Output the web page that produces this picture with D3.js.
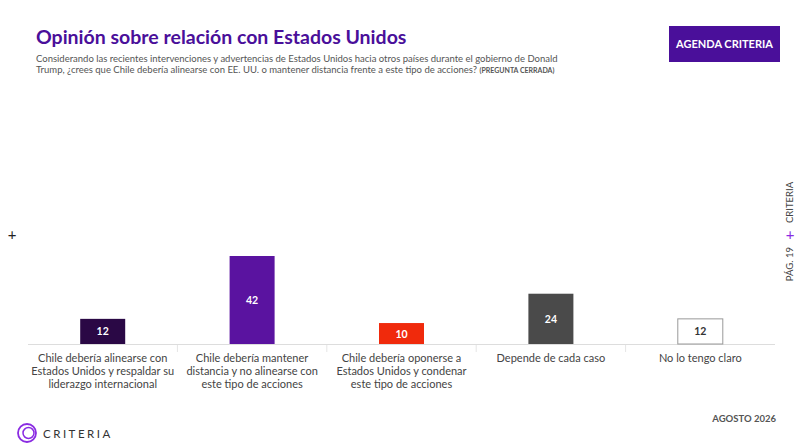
<!DOCTYPE html><html><head><meta charset="utf-8">
<script src="https://cdn.jsdelivr.net/npm/d3@7"></script>
<style>body{margin:0;background:#fff}svg{font-family:Lato,'Open Sans',sans-serif}</style></head><body>
<svg id="c" width="800" height="448"></svg>
<script>
const categories=[["Chile debería alinearse con","Estados Unidos y respaldar su","liderazgo internacional"],["Chile debería mantener","distancia y no alinearse con","este tipo de acciones"],["Chile debería oponerse a","Estados Unidos y condenar","este tipo de acciones"],["Depende de cada caso"],["No lo tengo claro"]];
const values=[12,42,10,24,12];
const colors=["#2a0845","#5a13a0","#f02a0c","#4a4a4a","#ffffff"];
const labelColors=["#fff","#fff","#fff","#fff","#333"];
const svg=d3.select("#c");
const x=d3.scaleBand().domain(d3.range(5)).range([28,775]).paddingInner(0).paddingOuter(0);
const y=d3.scaleLinear().domain([0,42]).range([344,256]);
const bw=46;
svg.append("text").attr("x",36).attr("y",44).attr("fill","#4a0f9a").attr("font-size",19.5).attr("font-weight",700).text("Opinión sobre relación con Estados Unidos");
const sub=svg.append("text").attr("x",36).attr("y",62).attr("fill","#555").attr("font-size",9.5);
sub.append("tspan").text("Considerando las recientes intervenciones y advertencias de Estados Unidos hacia otros países durante el gobierno de Donald");
sub.append("tspan").attr("x",36).attr("dy",11).text("Trump, ¿crees que Chile debería alinearse con EE. UU. o mantener distancia frente a este tipo de acciones? ");
sub.append("tspan").attr("font-weight",700).attr("font-size",7).text("(PREGUNTA CERRADA)");
svg.append("rect").attr("x",669).attr("y",26).attr("width",111).attr("height",36).attr("fill","#4a0f9a");
svg.append("text").attr("x",724.5).attr("y",48).attr("text-anchor","middle").attr("fill","#fff").attr("font-size",11).attr("font-weight",700).text("AGENDA CRITERIA");
svg.append("text").attr("x",12).attr("y",240).attr("text-anchor","middle").attr("font-size",15).attr("fill","#222").text("+");
const rv=svg.append("g").attr("transform","translate(790,235) rotate(-90)");
rv.append("text").attr("x",-12).attr("text-anchor","end").attr("font-size",9.5).attr("fill","#444").attr("dy","0.35em").text("PÁG. 19");
rv.append("text").attr("x",12).attr("text-anchor","start").attr("font-size",9.5).attr("fill","#444").attr("dy","0.35em").text("CRITERIA");
rv.append("text").attr("x",0).attr("text-anchor","middle").attr("font-size",15).attr("fill","#8a2be2").attr("dy","0.35em").attr("transform","rotate(90)").text("+");
svg.append("line").attr("x1",28).attr("x2",775).attr("y1",344.5).attr("y2",344.5).attr("stroke","#ddd");
d3.range(1,5).forEach(i=>svg.append("line").attr("x1",x(i)).attr("x2",x(i)).attr("y1",345).attr("y2",352).attr("stroke","#e5e5e5"));
const g=svg.selectAll(".b").data(values).join("g");
g.append("rect").attr("x",(d,i)=>x(i)+x.bandwidth()/2-bw/2+0.5).attr("y",d=>y(d)).attr("width",bw-1).attr("height",d=>344-y(d))
 .attr("fill",(d,i)=>colors[i]).attr("stroke",(d,i)=>i==4?"#999":"none");
g.append("text").attr("x",(d,i)=>x(i)+x.bandwidth()/2).attr("y",d=>(y(d)+344)/2+4).attr("text-anchor","middle").attr("font-size",10.5).attr("font-weight",700).attr("fill",(d,i)=>labelColors[i]).text(d=>d);
categories.forEach((lines,i)=>{const t=svg.append("text").attr("x",x(i)+x.bandwidth()/2).attr("y",362).attr("text-anchor","middle").attr("font-size",11).attr("fill","#444");
 lines.forEach((l,j)=>t.append("tspan").attr("x",x(i)+x.bandwidth()/2).attr("dy",j?13:0).text(l));});
svg.append("text").attr("x",776).attr("y",422).attr("text-anchor","end").attr("font-size",9.5).attr("font-weight",700).attr("fill","#555").text("AGOSTO 2026");
const lg=svg.append("g").attr("transform","translate(27,433)");
lg.append("circle").attr("r",9).attr("fill","none").attr("stroke","#8a2be2").attr("stroke-width",1.8);
lg.append("circle").attr("r",5.5).attr("cx",1.5).attr("fill","none").attr("stroke","#8a2be2").attr("stroke-width",1.5);
svg.append("text").attr("x",43).attr("y",438).attr("font-size",11.5).attr("letter-spacing",2.5).attr("fill","#333").text("CRITERIA");
</script></body></html>
